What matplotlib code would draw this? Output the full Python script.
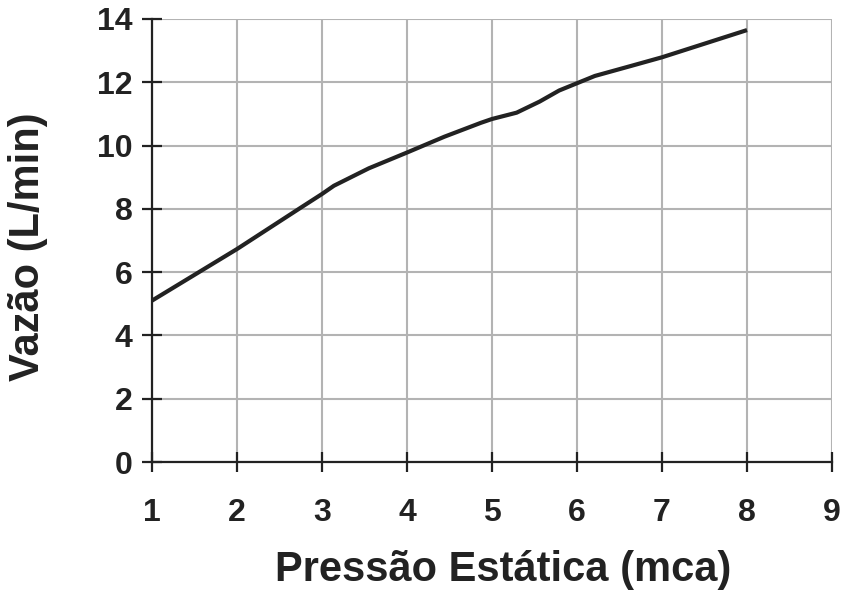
import matplotlib
matplotlib.use("Agg")
import matplotlib.pyplot as plt

# Data
pressure = [1, 2, 2.74, 3, 3.14, 3.55, 4, 4.44, 4.87, 5, 5.29, 5.56, 5.79, 6, 6.21, 6.64, 7, 8]
flow = [5.1, 6.73, 8.02, 8.47, 8.73, 9.28, 9.78, 10.28, 10.72, 10.84, 11.04, 11.39, 11.74,
        11.97, 12.2, 12.52, 12.79, 13.65]
x_ticks = [1, 2, 3, 4, 5, 6, 7, 8, 9]
y_ticks = [0, 2, 4, 6, 8, 10, 12, 14]
x_label = "Pressão Estática (mca)"
y_label = "Vazão (L/min)"

plt.rcParams['font.family'] = ['Liberation Sans', 'DejaVu Sans']
plt.rcParams['font.weight'] = 'bold'

fig = plt.figure(figsize=(8.48, 6.01), dpi=100)
ax = fig.add_axes([152/848, 1 - 462/601, (832 - 152)/848, (462 - 19)/601])

ax.plot(pressure, flow, color='#222222', linewidth=3.0, solid_joinstyle='round',
        solid_capstyle='butt', zorder=3)

ax.set_xlim(1, 9)
ax.set_ylim(0, 14)
ax.set_xticks(x_ticks)
ax.set_yticks(y_ticks)
ax.grid(True, color='#b3b3b3', linewidth=1.5)
ax.set_axisbelow(True)

for s in ['top', 'right']:
    ax.spines[s].set_visible(False)
for s in ['left', 'bottom']:
    ax.spines[s].set_color('#222222')
    ax.spines[s].set_linewidth(1.6)

ax.tick_params(axis='both', direction='inout', length=14, width=1.6, color='#222222',
               labelsize=23, labelcolor='#222222')
ax.tick_params(axis='x', pad=19)
ax.tick_params(axis='y', pad=7)

ax.set_xlabel(x_label, fontsize=30, fontweight='bold', color='#222222', labelpad=16, x=0.517)
ax.set_ylabel(y_label, fontsize=30, fontweight='bold', color='#222222', labelpad=35, y=0.485)

fig.savefig('out.png', dpi=100)
